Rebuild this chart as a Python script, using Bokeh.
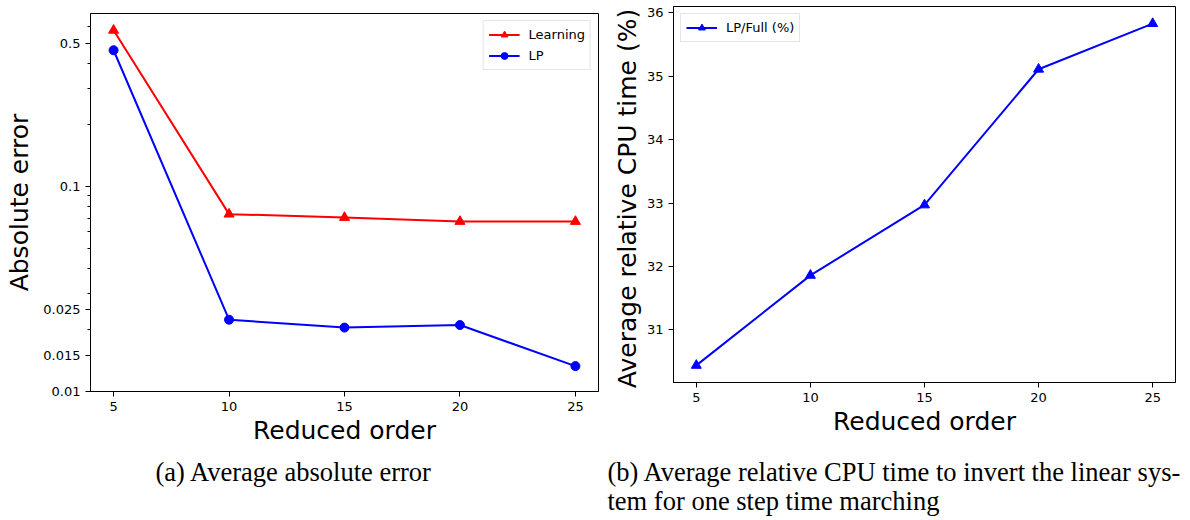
import math
from bokeh.plotting import figure
from bokeh.models import (Range1d, FixedTicker, CustomJSTickFormatter, Legend,
                          LegendItem, Label, Spacer)
from bokeh.layouts import column, row
from bokeh.embed import file_html
from bokeh.resources import INLINE

# ---------------- data ----------------
orders = [5, 10, 15, 20, 25]
learning_err = [0.578, 0.0733, 0.0706, 0.0675, 0.0675]
lp_err = [0.462, 0.0224, 0.0205, 0.0211, 0.0133]
cpu_pct = [30.44, 31.86, 32.97, 35.11, 35.83]

x_ticks = [5, 10, 15, 20, 25]
err_ticks = [0.01, 0.015, 0.025, 0.1, 0.5]
err_minor = [0.02, 0.03, 0.04, 0.05, 0.06, 0.07, 0.08, 0.09, 0.2, 0.3, 0.4, 0.6]
cpu_ticks = [31, 32, 33, 34, 35, 36]

caption_a = "(a) Average absolute error"
caption_b1 = "(b) Average relative CPU time to invert the linear sys-"
caption_b2 = "tem for one step time marching"

FONT = "DejaVu Sans"
SERIF = "Liberation Serif"

# matplotlib-like 5% margins
xpad = 0.05 * (max(orders) - min(orders))
x_lo, x_hi = min(orders) - xpad, max(orders) + xpad
all_err = learning_err + lp_err
lmin, lmax = math.log10(min(all_err)), math.log10(max(all_err))
err_top = 10 ** (lmax + 0.05 * (lmax - lmin))
err_bottom = 0.01
cr = max(cpu_pct) - min(cpu_pct)
cpu_lo, cpu_hi = min(cpu_pct) - 0.05 * cr, max(cpu_pct) + 0.05 * cr


def style(p):
    p.xgrid.visible = False
    p.ygrid.visible = False
    p.outline_line_color = "black"
    p.outline_line_width = 1
    p.background_fill_color = "white"
    p.border_fill_color = "white"
    for ax in (p.xaxis[0], p.yaxis[0]):
        ax.axis_line_color = "black"
        ax.major_tick_line_color = "black"
        ax.minor_tick_line_color = "black"
        ax.major_tick_in = 0
        ax.major_tick_out = 5
        ax.minor_tick_in = 0
        ax.minor_tick_out = 3
        ax.major_label_standoff = 5
        ax.major_label_text_font = FONT
        ax.major_label_text_font_size = "13px"
        ax.major_label_text_color = "black"
        ax.axis_label_text_font = FONT
        ax.axis_label_text_font_size = "25px"
        ax.axis_label_text_font_style = "normal"
        ax.axis_label_text_color = "black"


def style_legend(lg):
    lg.label_text_font = FONT
    lg.label_text_font_size = "13px"
    lg.label_text_color = "black"
    lg.border_line_color = "#cccccc"
    lg.border_line_width = 1
    lg.background_fill_alpha = 0.8
    lg.glyph_width = 31
    lg.glyph_height = 17
    lg.label_height = 17
    lg.label_standoff = 9
    lg.spacing = 4
    lg.padding = 5
    lg.margin = 7


# ---------------- left: absolute error ----------------
p1 = figure(width=604, height=455, output_backend="svg", toolbar_location=None,
            y_axis_type="log", x_range=Range1d(x_lo, x_hi),
            y_range=Range1d(err_bottom, err_top),
            min_border_left=90, min_border_right=6, min_border_top=6,
            min_border_bottom=71)
style(p1)
p1.xaxis.ticker = FixedTicker(ticks=x_ticks, minor_ticks=[])
p1.yaxis.ticker = FixedTicker(ticks=err_ticks, minor_ticks=err_minor)
p1.yaxis.formatter = CustomJSTickFormatter(code="return String(Number(tick.toPrecision(6)));")
p1.xaxis.axis_label = "Reduced order"
p1.yaxis.axis_label = "Absolute error"
p1.xaxis.axis_label_standoff = 2
p1.yaxis.axis_label_standoff = 6

l1 = p1.line(orders, learning_err, line_color="red", line_width=2)
m1 = p1.scatter(orders, learning_err, marker="triangle", size=10,
                fill_color="red", line_color="red")
l2 = p1.line(orders, lp_err, line_color="blue", line_width=2)
m2 = p1.scatter(orders, lp_err, marker="circle", size=9,
                fill_color="blue", line_color="blue")
leg1 = Legend(items=[LegendItem(label="Learning", renderers=[l1, m1]),
                     LegendItem(label="LP", renderers=[l2, m2])],
              location="top_right")
style_legend(leg1)
p1.add_layout(leg1)

# ---------------- right: CPU time ----------------
p2 = figure(width=586, height=453, output_backend="svg", toolbar_location=None,
            x_range=Range1d(x_lo, x_hi), y_range=Range1d(cpu_lo, cpu_hi),
            min_border_left=69, min_border_right=15, min_border_top=6,
            min_border_bottom=71)
style(p2)
p2.xaxis.ticker = FixedTicker(ticks=x_ticks, minor_ticks=[])
p2.yaxis.ticker = FixedTicker(ticks=cpu_ticks, minor_ticks=[])
p2.xaxis.axis_label = "Reduced order"
p2.yaxis.axis_label = "Average relative CPU time  (%)"
p2.xaxis.axis_label_standoff = 2
p2.yaxis.axis_label_standoff = 2

l3 = p2.line(orders, cpu_pct, line_color="blue", line_width=2)
m3 = p2.scatter(orders, cpu_pct, marker="triangle", size=10,
                fill_color="blue", line_color="blue")
leg2 = Legend(items=[LegendItem(label="LP/Full (%)", renderers=[l3, m3])],
              location="top_left")
style_legend(leg2)
p2.add_layout(leg2)

# ---------------- captions ----------------
p3 = figure(width=1190, height=68, output_backend="svg", toolbar_location=None,
            x_range=Range1d(0, 1190), y_range=Range1d(0, 68),
            x_axis_location=None, y_axis_location=None,
            min_border=0, outline_line_color=None,
            background_fill_alpha=0, border_fill_alpha=0)
p3.styles = {"margin-top": "-10px"}
p3.xgrid.visible = False
p3.ygrid.visible = False
for txt, xx, yy in [(caption_a, 155, 49), (caption_b1, 607, 49), (caption_b2, 607, 20)]:
    p3.add_layout(Label(x=xx, y=yy, text=txt, text_font=SERIF,
                        text_font_size="26.5px", text_color="black",
                        text_baseline="alphabetic", text_align="left"))

left_col = column(Spacer(width=604, height=7), p1)
layout = column(row(left_col, p2), p3)
open("out.html", "w").write(file_html(layout, INLINE))
